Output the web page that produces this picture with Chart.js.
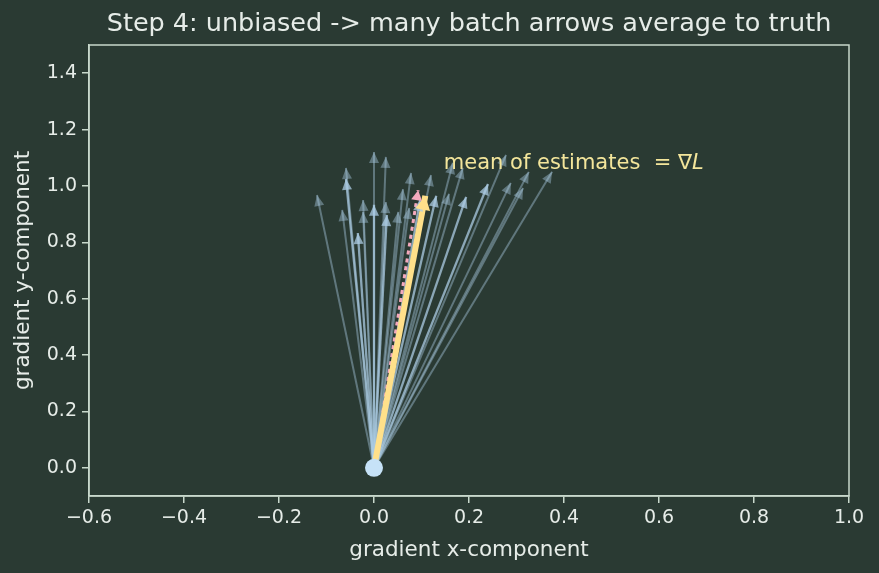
<!DOCTYPE html>
<html>
<head>
<meta charset="utf-8">
<script src="https://cdn.jsdelivr.net/npm/chart.js@4.4.1/dist/chart.umd.min.js"></script>
<style>
  html, body { margin: 0; padding: 0; background: #2a3a33; }
  #wrap { width: 879px; height: 573px; }
</style>
</head>
<body>
<div id="wrap"><canvas id="chart" width="879" height="573"></canvas></div>
<script>
// batch gradient estimates (arrow tips, all start at the origin)
const batchX = [-0.120, -0.059, -0.059, -0.067, -0.034, -0.023, -0.023, 0.000, 0.000, 0.025,
                0.025, 0.027, 0.051, 0.061, 0.074, 0.078, 0.097, 0.120, 0.131, 0.158,
                0.166, 0.187, 0.194, 0.240, 0.278, 0.288, 0.314, 0.326, 0.375];
const batchY = [0.968, 1.064, 1.025, 0.915, 0.833, 0.950, 0.908, 1.120, 0.933, 1.103,
                0.943, 0.897, 0.908, 0.989, 0.922, 1.046, 0.950, 1.039, 0.965, 0.972,
                1.082, 1.064, 0.961, 1.007, 1.110, 1.011, 0.993, 1.050, 1.050];
const brightIdx = [2, 4, 8, 11, 16, 18, 22, 23];

const trueGrad = [0.093, 0.985];
const meanGrad = [0.108, 0.965];
const origin = [0, 0];

const xTicks = [-0.6, -0.4, -0.2, 0.0, 0.2, 0.4, 0.6, 0.8, 1.0];
const yTicks = [0.0, 0.2, 0.4, 0.6, 0.8, 1.0, 1.2, 1.4];

const titleText = 'Step 4: unbiased -> many batch arrows average to truth';
const noteText = 'mean of estimates  = \u2207';
const notePos = [0.147, 1.08];

const BG = '#2a3a33';
const FG = '#e6ece8';
const SPINE = '#c8d8cc';

const datasets = [];
datasets.push({
  data: [{x: origin[0], y: origin[1]}],
  pointRadius: 9, pointBackgroundColor: '#c6e2f7', pointBorderWidth: 0,
  showLine: false, order: 0
});
datasets.push({
  data: [{x: origin[0], y: origin[1]}, {x: meanGrad[0], y: meanGrad[1]}],
  borderColor: '#ffe08a', borderWidth: 6, showLine: true, pointRadius: 0,
  arrow: {len: 14, half: 7.5, color: '#ffe08a'}, order: 1
});
datasets.push({
  data: [{x: origin[0], y: origin[1]}, {x: trueGrad[0], y: trueGrad[1]}],
  borderColor: '#f4a9bd', borderWidth: 3, borderDash: [4, 4], showLine: true, pointRadius: 0,
  arrow: {len: 10, half: 5.5, color: '#f4a9bd'}, order: 2
});
batchX.forEach((bx, i) => {
  const bright = brightIdx.includes(i);
  const c = bright ? 'rgba(172,204,228,0.75)' : 'rgba(172,204,228,0.42)';
  datasets.push({
    data: [{x: origin[0], y: origin[1]}, {x: bx, y: batchY[i]}],
    borderColor: c, borderWidth: bright ? 2.3 : 2, showLine: true, pointRadius: 0,
    arrow: {len: 11, half: 5, color: c}, order: 3
  });
});

const fmt = v => v.toFixed(1).replace('-', '\u2212');

const bgPlugin = {
  id: 'bg',
  beforeDraw(chart) {
    const ctx = chart.ctx;
    ctx.save();
    ctx.fillStyle = BG;
    ctx.fillRect(0, 0, chart.width, chart.height);
    ctx.restore();
  }
};

const arrowPlugin = {
  id: 'arrows',
  afterDatasetsDraw(chart) {
    const ctx = chart.ctx;
    const a = chart.chartArea;
    ctx.save();
    ctx.beginPath();
    ctx.rect(a.left, a.top, a.right - a.left, a.bottom - a.top);
    ctx.clip();
    // faint arrows first, then truth and mean on top
    const idx = chart.data.datasets.map((d, i) => i).filter(i => chart.data.datasets[i].arrow);
    idx.sort((p, q) => chart.data.datasets[q].order - chart.data.datasets[p].order);
    idx.forEach(i => {
      const ds = chart.data.datasets[i];
      const meta = chart.getDatasetMeta(i);
      const p0 = meta.data[0], p1 = meta.data[1];
      const ang = Math.atan2(p1.y - p0.y, p1.x - p0.x);
      const {len, half, color} = ds.arrow;
      const bx = p1.x - len * Math.cos(ang), by = p1.y - len * Math.sin(ang);
      ctx.fillStyle = color;
      ctx.beginPath();
      ctx.moveTo(p1.x, p1.y);
      ctx.lineTo(bx + half * Math.sin(ang), by - half * Math.cos(ang));
      ctx.lineTo(bx - half * Math.sin(ang), by + half * Math.cos(ang));
      ctx.closePath();
      ctx.fill();
    });
    ctx.restore();

    // annotation
    const xs = chart.scales.x, ys = chart.scales.y;
    const tx = xs.getPixelForValue(notePos[0]), ty = ys.getPixelForValue(notePos[1]);
    ctx.save();
    ctx.fillStyle = '#f3e59b';
    ctx.textBaseline = 'middle';
    ctx.font = '21px "DejaVu Sans"';
    ctx.fillText(noteText, tx, ty);
    const w = ctx.measureText(noteText).width;
    ctx.font = 'italic 21px "DejaVu Sans"';
    ctx.fillText('L', tx + w, ty);
    ctx.restore();
  },
  afterDraw(chart) {
    const ctx = chart.ctx;
    const a = chart.chartArea;
    ctx.save();
    ctx.strokeStyle = SPINE;
    ctx.lineWidth = 1.5;
    ctx.strokeRect(a.left, a.top, a.right - a.left, a.bottom - a.top);
    // title centred over the plot area
    ctx.fillStyle = FG;
    ctx.font = '25.5px "DejaVu Sans"';
    ctx.textAlign = 'center';
    ctx.textBaseline = 'middle';
    ctx.fillText(titleText, (a.left + a.right) / 2, 24);
    ctx.restore();
  }
};

new Chart(document.getElementById('chart'), {
  type: 'scatter',
  data: { datasets: datasets },
  options: {
    responsive: false,
    animation: false,
    layout: { padding: { left: 0, right: 30, top: 45, bottom: 0 } },
    plugins: {
      legend: { display: false },
      tooltip: { enabled: false },
      title: { display: false }
    },
    scales: {
      x: {
        type: 'linear', min: -0.6, max: 1.0,
        afterBuildTicks: s => { s.ticks = xTicks.map(v => ({value: v})); },
        afterFit: s => { s.height = 77; },
        ticks: { color: FG, font: { family: 'DejaVu Sans', size: 19 }, padding: 4, maxRotation: 0, callback: fmt },
        grid: { display: true, drawOnChartArea: false, drawTicks: true, tickLength: 7, color: SPINE, lineWidth: 1.5 },
        border: { display: true, color: SPINE, width: 1.5 },
        title: { display: true, text: 'gradient x-component', color: FG,
                 font: { family: 'DejaVu Sans', size: 21.5 }, padding: { top: 0, bottom: 10 } }
      },
      y: {
        type: 'linear', min: -0.1, max: 1.5,
        afterBuildTicks: s => { s.ticks = yTicks.map(v => ({value: v})); },
        afterFit: s => { s.width = 89; },
        ticks: { color: FG, font: { family: 'DejaVu Sans', size: 19 }, padding: 5, callback: fmt },
        grid: { display: true, drawOnChartArea: false, drawTicks: true, tickLength: 7, color: SPINE, lineWidth: 1.5 },
        border: { display: true, color: SPINE, width: 1.5 },
        title: { display: true, text: 'gradient y-component', color: FG,
                 font: { family: 'DejaVu Sans', size: 21.5 }, padding: { top: 11, bottom: 0 } }
      }
    }
  },
  plugins: [bgPlugin, arrowPlugin]
});
</script>
</body>
</html>
